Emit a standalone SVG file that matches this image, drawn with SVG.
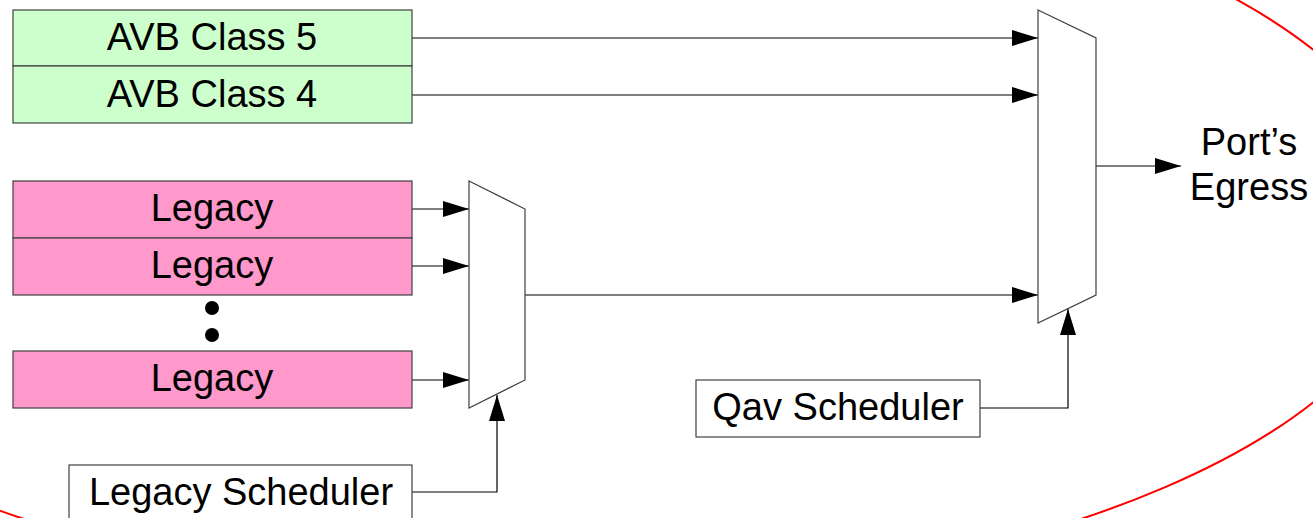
<svg xmlns="http://www.w3.org/2000/svg" width="1313" height="518" viewBox="0 0 1313 518">
<style>
.box{stroke:#404040;stroke-width:1.2}
.avb{fill:#ccffcc}
.leg{fill:#ff99cc}
.wht{fill:#ffffff}
.mux{fill:#ffffff;stroke:#404040;stroke-width:1.2}
.lbl{font-family:"Liberation Sans",Arial,sans-serif;font-size:38px;fill:#000;text-anchor:middle}
.conn{fill:none;stroke:#000;stroke-width:1.2;marker-end:url(#arr)}
</style>
<defs>
<marker id="arr" markerUnits="userSpaceOnUse" markerWidth="27" markerHeight="18" refX="26" refY="8" orient="auto">
<path d="M0,0 L26,8 L0,16 Z" fill="#000"/>
</marker>
</defs>
<rect width="1313" height="518" fill="#ffffff"/>
<ellipse cx="552.5" cy="226" rx="865" ry="370" fill="none" stroke="#ff0000" stroke-width="2"/>
<g id="connectors">
<path class="conn" d="M412,38 H1038"/>
<path class="conn" d="M412,95 H1038"/>
<path class="conn" d="M412,209 H469"/>
<path class="conn" d="M412,266 H469"/>
<path class="conn" d="M412,380 H469"/>
<path class="conn" d="M525,295 H1038"/>
<path class="conn" d="M1096,166 H1181"/>
<path class="conn" d="M412,492 H497 V395"/>
<path class="conn" d="M980,408 H1068 V309"/>
</g>
<g id="avb5"><rect class="box avb" x="13" y="10" width="399" height="56"/><text class="lbl" x="212" y="50">AVB Class 5</text></g>
<g id="avb4"><rect class="box avb" x="13" y="66" width="399" height="57"/><text class="lbl" x="212" y="107">AVB Class 4</text></g>
<g id="legacy1"><rect class="box leg" x="13" y="181" width="399" height="57"/><text class="lbl" x="212" y="221">Legacy</text></g>
<g id="legacy2"><rect class="box leg" x="13" y="238" width="399" height="57"/><text class="lbl" x="212" y="278">Legacy</text></g>
<g id="dots"><circle cx="212" cy="308" r="7" fill="#000"/><circle cx="212" cy="335" r="7" fill="#000"/></g>
<g id="legacy3"><rect class="box leg" x="13" y="351" width="399" height="57"/><text class="lbl" x="212" y="391">Legacy</text></g>
<g id="legacySched"><rect class="box wht" x="69" y="465" width="343" height="60"/><text class="lbl" x="241" y="505">Legacy Scheduler</text></g>
<g id="qavSched"><rect class="box wht" x="696" y="380" width="284" height="57"/><text class="lbl" x="838" y="420">Qav Scheduler</text></g>
<g id="mux1"><path class="mux" d="M469,181 L525,209 L525,380 L469,408 Z"/></g>
<g id="mux2"><path class="mux" d="M1038,10 L1096,38 L1096,295 L1038,323 Z"/></g>
<g id="egress"><text class="lbl" x="1249" y="155">Port’s</text><text class="lbl" x="1249" y="200">Egress</text></g>
</svg>
